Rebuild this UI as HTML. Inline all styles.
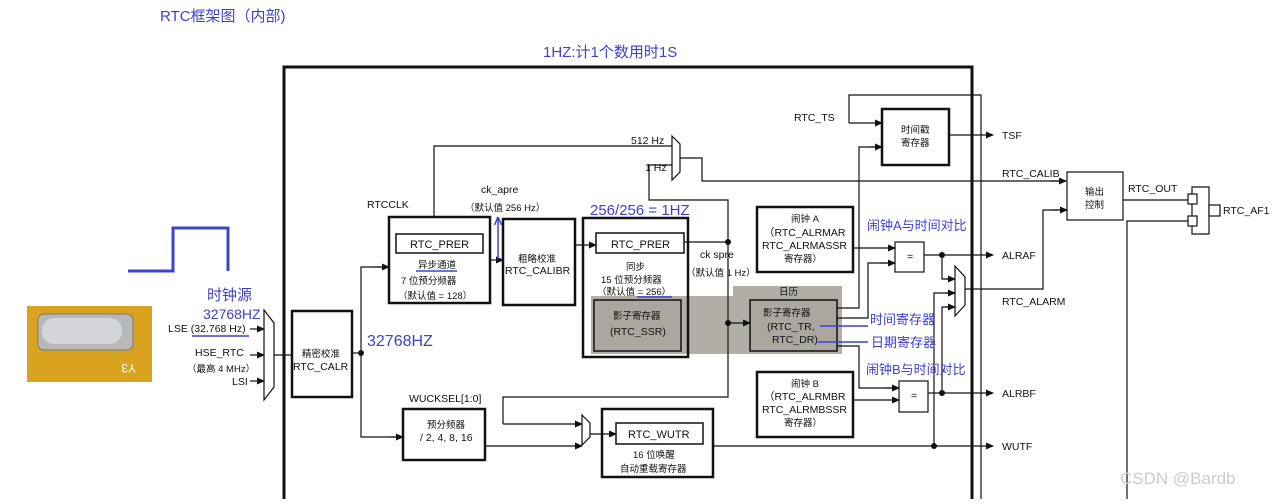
<!DOCTYPE html>
<html><head><meta charset="utf-8"><style>
body{margin:0;background:#fff;width:1274px;height:499px;overflow:hidden}
svg text{font-family:"Liberation Sans","Noto Sans CJK SC",sans-serif;fill:#111}
.b{fill:#4040d0}
</style></head><body>
<svg width="1274" height="499" viewBox="0 0 1274 499">
<defs><marker id="a" markerWidth="8" markerHeight="8" refX="7" refY="4" orient="auto" markerUnits="userSpaceOnUse"><path d="M0,0.5L8,4L0,7.5z" fill="#111"/></marker>
<marker id="ab" markerWidth="8" markerHeight="8" refX="7" refY="4" orient="auto" markerUnits="userSpaceOnUse"><path d="M0,0.5L8,4L0,7.5" fill="none" stroke="#3b44d0" stroke-width="1.5"/></marker></defs>
<g font-size="11">
<text x="160" y="21" class="b" font-size="15">RTC框架图（内部)</text>
<text x="543" y="57" class="b" font-size="15">1HZ:计1个数用时1S</text>
</g>
<!-- photo -->
<rect x="27" y="306" width="125" height="76" fill="#d9a21f"/>
<rect x="38" y="314" width="95" height="36" rx="6" fill="#b8b8b8" stroke="#777"/>
<rect x="42" y="318" width="80" height="26" rx="12" fill="#d4d6da"/>
<text x="120" y="372" font-size="12" fill="#fff" style="fill:#fff" transform="rotate(180 128 368)">Y3</text>
<!-- square wave -->
<path d="M128,271H173V228H228V271" fill="none" stroke="#3b44d0" stroke-width="3"/>
<text x="207" y="300" class="b" font-size="15">时钟源</text>
<text x="203" y="319" class="b" font-size="14">32768HZ</text>
<text x="367" y="346" class="b" font-size="16">32768HZ</text>
<line x1="192" y1="336" x2="249" y2="336" stroke="#3b44d0" stroke-width="1.5"/>
<g stroke="#111" fill="none" stroke-width="1.2">
<!-- main frame -->
<path d="M284,499V67H972V499" stroke-width="3"/>
<path d="M849,123V95H981V499"/>
<!-- input mux -->
<path d="M264,310L274,323V387L264,400Z" fill="#fff"/>
<line x1="250" y1="329" x2="264" y2="329" marker-end="url(#a)"/>
<line x1="250" y1="355" x2="264" y2="355" marker-end="url(#a)"/>
<line x1="250" y1="381" x2="264" y2="381" marker-end="url(#a)"/>
<line x1="274" y1="355" x2="292" y2="355"/>
<rect x="292" y="311" width="60" height="86" stroke-width="2.5"/>
<line x1="352" y1="353" x2="361" y2="353"/>
<path d="M389,267H361V437H403" />
<line x1="375" y1="267" x2="389" y2="267" marker-end="url(#a)"/>
<line x1="390" y1="437" x2="403" y2="437" marker-end="url(#a)"/>
<!-- async -->
<rect x="389" y="217" width="101" height="86" stroke-width="2.5"/>
<rect x="396" y="234" width="87" height="19" stroke-width="1.5"/>
<path d="M434,217V146H672"/>
<line x1="490" y1="260" x2="503" y2="260" marker-end="url(#a)"/>
<rect x="503" y="219" width="72" height="86" stroke-width="2.5"/>
<line x1="575" y1="245" x2="596" y2="245" marker-end="url(#a)"/>
<!-- gray band -->
<path d="M733,286H842V354H591V296H733Z" fill="#b0aea6" stroke="none"/>
<rect x="583" y="218" width="105" height="139" stroke-width="2.5"/>
<rect x="596" y="233" width="88" height="20" stroke-width="1.5" fill="#fff"/>
<rect x="594" y="300" width="87" height="51" stroke-width="1.5" fill="#a9a79f"/>
<rect x="750" y="300" width="87" height="51" stroke-width="1.5" fill="#a9a79f"/>
<!-- 512 mux -->
<path d="M672,136L680,144V172L672,180Z" fill="#fff"/>
<path d="M672,165H649V200H728V397H503V424"/>
<line x1="503" y1="424" x2="582" y2="424" marker-end="url(#a)"/>
<path d="M680,158H702V181H1066" />
<line x1="1050" y1="181" x2="1066" y2="181" marker-end="url(#a)"/>
<line x1="684" y1="242" x2="728" y2="242"/>
<line x1="728" y1="323" x2="750" y2="323" marker-end="url(#a)"/>
<!-- prescaler -->
<rect x="403" y="409" width="82" height="51" stroke-width="2.5"/>
<line x1="485" y1="446" x2="582" y2="446" marker-end="url(#a)"/>
<path d="M582,415L590,423V437L582,445Z" fill="#fff"/>
<line x1="590" y1="434" x2="616" y2="434" marker-end="url(#a)"/>
<rect x="602" y="409" width="111" height="68" stroke-width="2.5"/>
<rect x="616" y="423" width="87" height="21" stroke-width="1.5"/>
<line x1="713" y1="446" x2="993" y2="446" marker-end="url(#a)"/>
<!-- timestamp -->
<rect x="882" y="109" width="67" height="56" stroke-width="2.5"/>
<line x1="849" y1="123" x2="882" y2="123" marker-end="url(#a)"/>
<path d="M837,308H859V147H882"/>
<line x1="870" y1="147" x2="882" y2="147" marker-end="url(#a)"/>
<line x1="949" y1="135" x2="993" y2="135" marker-end="url(#a)"/>
<!-- alarm A -->
<rect x="757" y="207" width="96" height="65" stroke-width="2.5"/>
<line x1="853" y1="248" x2="895" y2="248" marker-end="url(#a)"/>
<path d="M837,318H868V263H895"/>
<line x1="880" y1="263" x2="895" y2="263" marker-end="url(#a)"/>
<rect x="895" y="242" width="29" height="30"/>
<line x1="924" y1="255" x2="993" y2="255" marker-end="url(#a)"/>
<path d="M942,255V279H955"/>
<line x1="945" y1="279" x2="955" y2="279" marker-end="url(#a)"/>
<path d="M955,266L965,277V305L955,316Z" fill="#fff"/>
<path d="M934,446V293H955"/>
<line x1="945" y1="293" x2="955" y2="293" marker-end="url(#a)"/>
<path d="M942,393V307H955"/>
<line x1="945" y1="307" x2="955" y2="307" marker-end="url(#a)"/>
<path d="M965,289H1043V210H1067"/>
<line x1="1052" y1="210" x2="1067" y2="210" marker-end="url(#a)"/>
<!-- alarm B -->
<path d="M837,346H859V388H899"/>
<line x1="885" y1="388" x2="899" y2="388" marker-end="url(#a)"/>
<rect x="757" y="372" width="96" height="65" stroke-width="2.5"/>
<line x1="853" y1="400" x2="899" y2="400" marker-end="url(#a)"/>
<rect x="899" y="381" width="29" height="31"/>
<line x1="928" y1="393" x2="993" y2="393" marker-end="url(#a)"/>
<!-- output -->
<rect x="1067" y="172" width="56" height="48"/>
<line x1="1123" y1="200" x2="1188" y2="200"/>
<path d="M1127,499V221H1188"/>
<path d="M1192,187H1209V234H1192Z"/>
<rect x="1188" y="194" width="9" height="10" fill="#fff"/>
<rect x="1188" y="216" width="9" height="10" fill="#fff"/>
<rect x="1209" y="205" width="11" height="11" fill="#fff"/>
</g>
<g fill="#111">
<circle cx="361" cy="353" r="3"/><circle cx="728" cy="242" r="3"/><circle cx="728" cy="323" r="3"/>
<circle cx="942" cy="255" r="3"/><circle cx="942" cy="393" r="3"/><circle cx="934" cy="446" r="3"/>
</g>
<!-- blue annotation lines -->
<g stroke="#3b44d0" stroke-width="1.5">
<line x1="820" y1="326" x2="868" y2="326"/><line x1="818" y1="342" x2="868" y2="342"/>
<line x1="498" y1="259" x2="498" y2="218" marker-end="url(#ab)"/>
<line x1="637" y1="297" x2="672" y2="297"/>
<line x1="416" y1="271" x2="457" y2="271"/>
</g>
<g font-size="10.5">
<text x="168" y="332">LSE (32.768 Hz)</text>
<text x="195" y="356">HSE_RTC</text>
<text x="187" y="372" font-size="9.5">（最高 4 MHz）</text>
<text x="232" y="385">LSI</text>
<text x="302" y="357" font-size="9.5">精密校准</text>
<text x="293" y="370">RTC_CALR</text>
<text x="367" y="208">RTCCLK</text>
<text x="410" y="248" font-size="11">RTC_PRER</text>
<text x="418" y="268" font-size="9.5">异步通道</text>
<text x="401" y="284" font-size="9.5">7 位预分频器</text>
<text x="398" y="299" font-size="9.5">（默认值 = 128）</text>
<text x="481" y="193">ck_apre</text>
<text x="465" y="211" font-size="9.5">（默认值 256 Hz）</text>
<text x="518" y="262" font-size="9.5">粗略校准</text>
<text x="505" y="274">RTC_CALIBR</text>
<text x="611" y="248" font-size="11">RTC_PRER</text>
<text x="626" y="270" font-size="9.5">同步</text>
<text x="601" y="283" font-size="9.5">15 位预分频器</text>
<text x="597" y="295" font-size="9.5">（默认值 = 256）</text>
<text x="613" y="319" font-size="9.5">影子寄存器</text>
<text x="610" y="335">(RTC_SSR)</text>
<text x="631" y="144">512 Hz</text>
<text x="645" y="171">1 Hz</text>
<text x="700" y="258">ck  spre</text>
<text x="686" y="276" font-size="9.5">（默认值 1 Hz）</text>
<text x="779" y="295" font-size="9.5">日历</text>
<text x="763" y="316" font-size="9.5">影子寄存器</text>
<text x="767" y="330">(RTC_TR,</text>
<text x="772" y="343">RTC_DR)</text>
<text x="791" y="222" font-size="9.5">闹钟 A</text>
<text x="764" y="236">（RTC_ALRMAR</text>
<text x="762" y="249">RTC_ALRMASSR</text>
<text x="784" y="262" font-size="9.5">寄存器）</text>
<text x="791" y="387" font-size="9.5">闹钟 B</text>
<text x="764" y="400">（RTC_ALRMBR</text>
<text x="762" y="413">RTC_ALRMBSSR</text>
<text x="784" y="426" font-size="9.5">寄存器）</text>
<text x="901" y="133" font-size="9.5">时间戳</text>
<text x="901" y="146" font-size="9.5">寄存器</text>
<text x="794" y="121">RTC_TS</text>
<text x="1002" y="139">TSF</text>
<text x="1002" y="177">RTC_CALIB</text>
<text x="1002" y="259">ALRAF</text>
<text x="1002" y="305">RTC_ALARM</text>
<text x="1002" y="397">ALRBF</text>
<text x="1002" y="450">WUTF</text>
<text x="1085" y="195" font-size="9.5">输出</text>
<text x="1085" y="208" font-size="9.5">控制</text>
<text x="1128" y="192">RTC_OUT</text>
<text x="1223" y="214">RTC_AF1</text>
<text x="907" y="260">=</text><text x="911" y="399">=</text>
<text x="409" y="402">WUCKSEL[1:0]</text>
<text x="427" y="428" font-size="9.5">预分频器</text>
<text x="420" y="441">/ 2, 4, 8, 16</text>
<text x="628" y="438" font-size="11">RTC_WUTR</text>
<text x="633" y="458" font-size="9.5">16 位唤醒</text>
<text x="620" y="472" font-size="9.5">自动重载寄存器</text>
</g>
<g class="b" font-size="13">
<text x="590" y="215" class="b" font-size="15">256/256 = 1HZ</text>
<text x="867" y="230" class="b">闹钟A与时间对比</text>
<text x="870" y="324" class="b">时间寄存器</text>
<text x="871" y="347" class="b">日期寄存器</text>
<text x="866" y="374" class="b">闹钟B与时间对比</text>
</g>
<text x="1120" y="484" font-size="17" style="fill:#ccc">CSDN @Bardb</text>
</svg>
</body></html>
